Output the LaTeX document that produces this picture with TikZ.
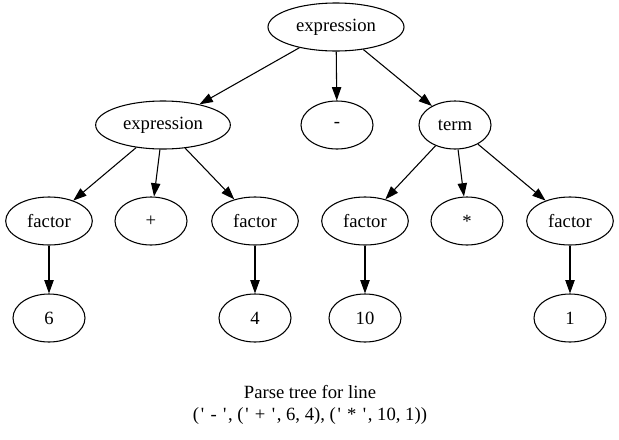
\documentclass[tikz,border=0pt]{standalone}
\usepackage{fontspec}
\newfontfamily\gv{Liberation Serif}
\usetikzlibrary{shapes.geometric,arrows.meta}
\newcommand{\qq}{\makebox[5pt]{'}}
\begin{document}
\begin{tikzpicture}[x=0.75pt,y=-0.75pt,
  font=\gv\fontsize{14}{16}\selectfont,
  tn/.style={ellipse,draw,line width=0.8pt,inner sep=0pt,minimum height=36pt,minimum width=54pt},
  wide/.style={tn,minimum width=101pt},
  fac/.style={tn,minimum width=65pt},
  edge/.style={draw,line width=0.8pt,-{Triangle[length=10pt,width=7pt]}}]
\useasboundingbox (0,0) rectangle (619,440);
\node[wide,minimum width=102pt] (r) at (336,27) {expression};
\node[wide] (e) at (163,125) {expression};
\node[tn] (m) at (337,125) {-};
\node[tn] (t) at (455,125) {term};
\node[fac] (f1) at (49,221) {factor};
\node[tn] (p) at (151,221) {+};
\node[fac] (f2) at (255,221) {factor};
\node[fac] (f3) at (365,221) {factor};
\node[tn] (s) at (467,221) {*};
\node[fac] (f4) at (570,221) {factor};
\node[tn] (n6) at (49,318) {6};
\node[tn] (n4) at (255,318) {4};
\node[tn] (n10) at (365,318) {10};
\node[tn] (n1) at (570,318) {1};
\node[align=center,inner sep=0pt] (cap) at (310,405) {Parse tree for line\\(\qq{} - \qq, (\qq{} + \qq, 6, 4), (\qq{} * \qq, 10, 1))};
\draw[edge] (r) -- (e);
\draw[edge] (r) -- (m);
\draw[edge] (r) -- (t);
\draw[edge] (e) -- (f1);
\draw[edge] (e) -- (p);
\draw[edge] (e) -- (f2);
\draw[edge] (t) -- (f3);
\draw[edge] (t) -- (s);
\draw[edge] (t) -- (f4);
\draw[edge] (f1) -- (n6);
\draw[edge] (f2) -- (n4);
\draw[edge] (f3) -- (n10);
\draw[edge] (f4) -- (n1);
\end{tikzpicture}
\end{document}
